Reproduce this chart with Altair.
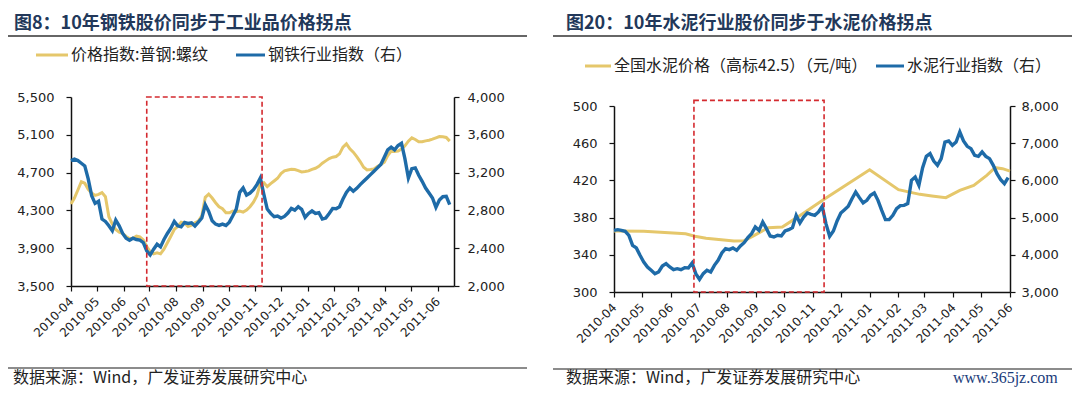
import altair as alt
import pandas as pd

W, H = 1064, 381

# ---------------- data ----------------
month_labels = ["2010-04", "2010-05", "2010-06", "2010-07", "2010-08", "2010-09", "2010-10",
                "2010-11", "2010-12", "2011-01", "2011-02", "2011-03", "2011-04", "2011-05", "2011-06"]

# left panel: sampled every 4 days from 2010-04-01
steel_start = "2010-04-01"
steel_price = [
    4367, 4431, 4516, 4604, 4587, 4523, 4484, 4459, 4470, 4488,
    4445, 4233, 4155, 4098, 4070, 4056, 4024, 4003, 4006, 4027,
    4020, 3988, 3918, 3865, 3840, 3850, 3840, 3889, 3957, 4027,
    4098, 4130, 4176, 4165, 4130, 4144, 4169, 4187, 4243, 4438,
    4473, 4431, 4381, 4339, 4318, 4275, 4275, 4293, 4286, 4293,
    4282, 4303, 4339, 4388, 4456, 4587, 4594, 4551, 4583, 4611,
    4640, 4689, 4718, 4728, 4735, 4732, 4721, 4707, 4711, 4718,
    4735, 4746, 4767, 4799, 4824, 4849, 4863, 4870, 4898, 4969,
    5004, 4951, 4916, 4870, 4817, 4757, 4728, 4732, 4739, 4764,
    4785, 4810, 4880, 4927, 4923, 4927, 4948, 4983, 5033, 5068,
    5050, 5026, 5026, 5036, 5043, 5054, 5068, 5082, 5079, 5072,
    5033]
steel_index = [
    3327, 3342, 3327, 3299, 3271, 3133, 2956, 2874, 2896, 2708,
    2683, 2637, 2584, 2697, 2637, 2556, 2506, 2485, 2506, 2492,
    2485, 2460, 2372, 2329, 2389, 2442, 2414, 2492, 2556, 2612,
    2683, 2637, 2626, 2672, 2662, 2669, 2634, 2676, 2719, 2860,
    2789, 2690, 2655, 2641, 2655, 2641, 2676, 2743, 2814, 2991,
    3037, 2963, 2984, 3019, 3073, 3143, 2973, 2814, 2768, 2733,
    2740, 2719, 2736, 2772, 2821, 2803, 2839, 2811, 2726, 2768,
    2796, 2768, 2775, 2708, 2719, 2768, 2821, 2818, 2839, 2920,
    2991, 3037, 3002, 3034, 3073, 3108, 3143, 3179, 3214, 3250,
    3285, 3363, 3441, 3469, 3441, 3487, 3511, 3345, 3143, 3242,
    3250, 3172, 3108, 3037, 2984, 2931, 2832, 2910, 2945, 2949,
    2860]

# right panel
cement_start = "2010-04-01"
cement_index = [
    4658, 4676, 4658, 4631, 4524, 4255, 4183, 3986, 3807, 3672,
    3583, 3493, 3538, 3699, 3762, 3672, 3601, 3628, 3601, 3654,
    3645, 3780, 3493, 3341, 3493, 3583, 3538, 3717, 3852, 4049,
    4165, 4138, 4183, 4120, 4237, 4326, 4461, 4568, 4748, 4658,
    4882, 4703, 4506, 4479, 4524, 4506, 4640, 4676, 4730, 5061,
    4855, 5016, 5124, 5088, 5061, 5151, 5303, 4837, 4497, 4640,
    4909, 5124, 5213, 5303, 5509, 5688, 5536, 5393, 5464, 5599,
    5661, 5464, 5196, 4945, 4945, 5061, 5240, 5321, 5330, 5375,
    6002, 6092, 5868, 6342, 6647, 6719, 6522, 6405, 6584, 7032,
    7059, 6943, 7032, 7301, 7059, 6916, 6853, 6674, 6647, 6764,
    6647, 6584, 6405, 6181, 6020, 5912, 6074]
cement_price_dates = ["2010-04-01", "2010-05-03", "2010-06-17", "2010-06-27", "2010-07-09",
                      "2010-08-08", "2010-08-19", "2010-08-30", "2010-09-14", "2010-09-29",
                      "2010-10-13", "2010-11-13", "2011-01-01", "2011-02-01", "2011-02-24",
                      "2011-03-09", "2011-03-24", "2011-04-08", "2011-04-23", "2011-05-07",
                      "2011-05-16", "2011-05-24", "2011-06-01"]
cement_price = [365.5, 365.2, 362.7, 359.9, 357.7, 354.8, 355.2, 360.9, 369.2, 370.0,
                378.9, 399.6, 431.5, 410.0, 405.0, 403.2, 401.4, 409.3, 414.7, 425.4,
                433.7, 432.6, 430.0]

left_box = {"start": ["2010-06-28"], "end": ["2010-11-09"], "top": [5500], "bottom": [3500]}
right_box = {"start": ["2010-06-26"], "end": ["2010-11-13"], "top": [506], "bottom": [300]}

left_y_ticks = [3500, 3900, 4300, 4700, 5100, 5500]
left_y2_ticks = [2000, 2400, 2800, 3200, 3600, 4000]
right_y_ticks = [300, 340, 380, 420, 460, 500]
right_y2_ticks = [3000, 4000, 5000, 6000, 7000, 8000]

title_left = "图8：10年钢铁股价同步于工业品价格拐点"
title_right = "图20：10年水泥行业股价同步于水泥价格拐点"
legend_left = ["价格指数:普钢:螺纹", "钢铁行业指数（右）"]
legend_right = ["全国水泥价格（高标42.5）（元/吨）", "水泥行业指数（右）"]
source_text = "数据来源：Wind，广发证券发展研究中心"
watermark = "www.365jz.com"

# ---------------- styles ----------------
YEL = "#E5C76B"
BLUE = "#1E6BA8"
RED = "#D42A2F"
TITLE_C = "#22385A"
NUM_FONT = "DejaVu Sans"
CJK = "Noto Sans CJK SC"


def ms(s):
    return int(pd.Timestamp(s, tz="UTC").value // 10**6)


tick_values = [ms(m + "-01") for m in month_labels]

left_df = pd.DataFrame({
    "date": pd.date_range(steel_start, periods=len(steel_index), freq="4D").strftime("%Y-%m-%d"),
    "price": steel_price, "index": steel_index})
right_df = pd.DataFrame({
    "date": pd.date_range(cement_start, periods=len(cement_index), freq="4D").strftime("%Y-%m-%d"),
    "index": cement_index})
right_price_df = pd.DataFrame({"date": cement_price_dates, "price": cement_price})

# panel geometry (chart coordinates)
LX = [63, 446]
LY = [278, 89]
RX = [606, 1002]
RY = [284, 98]

xL = alt.Scale(type="utc", domain=[ms("2010-04-01"), ms("2011-06-20")], range=LX)
xR = alt.Scale(type="utc", domain=[ms("2010-04-01"), ms("2011-06-01")], range=RX)
yLL = alt.Scale(domain=[3500, 5500], range=LY, nice=False, zero=False)
yLR = alt.Scale(domain=[2000, 4000], range=LY, nice=False, zero=False)
yRL = alt.Scale(domain=[300, 500], range=RY, nice=False, zero=False)
yRR = alt.Scale(domain=[3000, 8000], range=RY, nice=False, zero=False)


def xaxis(offset):
    return alt.Axis(orient="bottom", offset=offset, values=tick_values, format="%Y-%m",
                    labelAngle=-45, labelAlign="right", labelBaseline="middle",
                    labelFont=NUM_FONT, labelFontSize=12, labelColor="#222",
                    labelPadding=8, labelFlush=False, labelOverlap=False,
                    tickSize=5, tickColor="#111", tickWidth=1.2,
                    domainColor="#111", domainWidth=1.5, grid=False, title=None)


def yaxis(orient, offset, values, pad):
    return alt.Axis(orient=orient, offset=offset, values=values, format=",.0f",
                    labelFont=NUM_FONT, labelFontSize=13, labelColor="#222",
                    labelPadding=pad, labelOverlap=False,
                    tickSize=5, tickColor="#111", tickWidth=1.2,
                    domainColor="#111", domainWidth=1.5, grid=False, title=None)


layers = []

# ---- left panel ----
layers.append(alt.Chart(left_df).mark_line(color=YEL, strokeWidth=3).encode(
    x=alt.X("date:T", scale=xL, axis=xaxis(LY[0] - H)),
    y=alt.Y("price:Q", scale=yLL, axis=yaxis("left", -LX[0], left_y_ticks, 12))))
layers.append(alt.Chart(left_df).mark_line(color=BLUE, strokeWidth=3.4).encode(
    x=alt.X("date:T", scale=xL, axis=None),
    y=alt.Y("index:Q", scale=yLR, axis=yaxis("right", LX[1] - W, left_y2_ticks, 8))))
layers.append(alt.Chart(pd.DataFrame(left_box)).mark_rect(
    fillOpacity=0, stroke=RED, strokeWidth=1.6, strokeDash=[5, 3]).encode(
    x=alt.X("start:T", scale=xL, axis=None), x2="end:T",
    y=alt.Y("top:Q", scale=yLL, axis=None), y2="bottom:Q"))

# ---- right panel ----
layers.append(alt.Chart(right_price_df).mark_line(color=YEL, strokeWidth=3).encode(
    x=alt.X("date:T", scale=xR, axis=xaxis(RY[0] - H)),
    y=alt.Y("price:Q", scale=yRL, axis=yaxis("left", -RX[0], right_y_ticks, 12))))
layers.append(alt.Chart(right_df).mark_line(color=BLUE, strokeWidth=3.4).encode(
    x=alt.X("date:T", scale=xR, axis=None),
    y=alt.Y("index:Q", scale=yRR, axis=yaxis("right", RX[1] - W, right_y2_ticks, 6))))
layers.append(alt.Chart(pd.DataFrame(right_box)).mark_rect(
    fillOpacity=0, stroke=RED, strokeWidth=1.6, strokeDash=[5, 3]).encode(
    x=alt.X("start:T", scale=xR, axis=None), x2="end:T",
    y=alt.Y("top:Q", scale=yRL, axis=None), y2="bottom:Q"))

one = pd.DataFrame({"k": [0]})


def text(t, x, y, size, color="#222", weight="normal", font=CJK, align="left"):
    return alt.Chart(pd.DataFrame({"t": [t]})).mark_text(
        align=align, baseline="middle", font=font, fontSize=size, fontWeight=weight,
        color=color).encode(x=alt.value(x), y=alt.value(y), text="t:N")


def hline(x1, x2, y, color, width):
    return alt.Chart(one).mark_rule(color=color, strokeWidth=width).encode(
        x=alt.value(x1), x2=alt.value(x2), y=alt.value(y))


# titles + underline
layers.append(text(title_left, 6, 16, 18, TITLE_C, "bold"))
layers.append(text(title_right, 558, 16, 18, TITLE_C, "bold"))
layers.append(hline(0, 519, 28, "#333", 1.5))
layers.append(hline(545, 1064, 28, "#333", 1.5))

# legends
layers.append(hline(28, 60, 47, YEL, 3))
layers.append(text(legend_left[0], 63, 47, 16))
layers.append(hline(228, 257, 47, BLUE, 3))
layers.append(text(legend_left[1], 260, 47, 16))
layers.append(hline(577, 603, 58, YEL, 3))
layers.append(text(legend_right[0], 606, 58, 16))
layers.append(hline(868, 896, 58, BLUE, 3))
layers.append(text(legend_right[1], 899, 58, 16))

# footers
layers.append(hline(0, 519, 360, "#666", 1.5))
layers.append(hline(545, 1064, 361, "#666", 1.5))
layers.append(text(source_text, 5, 370, 16, "#222", "normal"))
layers.append(text(source_text, 558, 370, 16, "#222", "normal"))
layers.append(text(watermark, 945, 370, 16, "#1A3C7A", "normal", "Liberation Serif"))

chart = alt.layer(*layers).resolve_scale(x="independent", y="independent").properties(
    width=W, height=H, autosize=alt.AutoSizeParams(type="none"), padding=0
).configure_view(strokeWidth=0)

chart.save("out.html", embed_options={"renderer": "svg", "actions": False})
